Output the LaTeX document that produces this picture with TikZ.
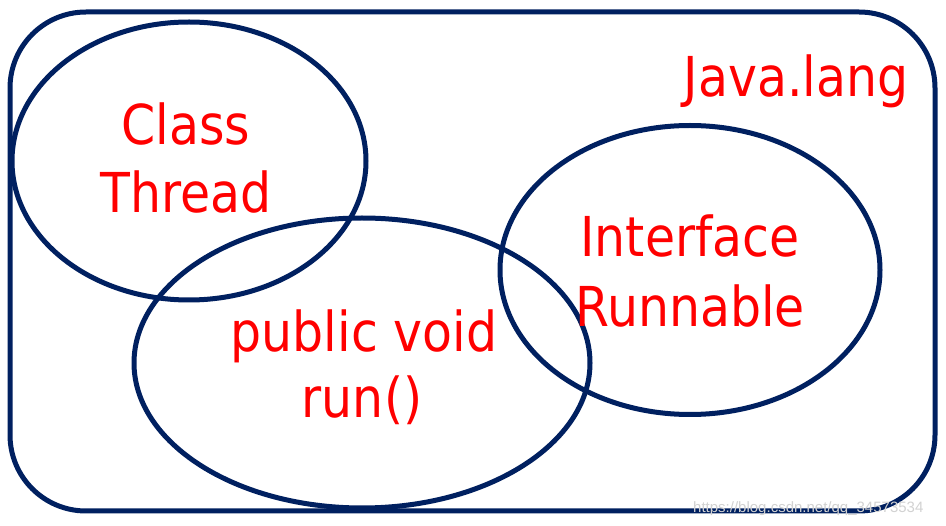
\documentclass[tikz,border=0pt]{standalone}
\usepackage{fontspec}
\usetikzlibrary{shapes.geometric}
\setmainfont{DejaVu Sans}[FakeStretch=0.89]
\newfontfamily\wmfont{Liberation Sans}
\definecolor{navyline}{HTML}{002060}
\definecolor{labelred}{HTML}{FF0000}
\tikzset{
  setline/.style={draw=navyline, line width=5pt},
  setlabel/.style={text=labelred, font=\fontsize{55}{69}\selectfont, anchor=base, inner sep=0pt},
}
\begin{document}
\begin{tikzpicture}[x=1pt,y=-1pt]
\useasboundingbox[fill=white] (0,0) rectangle (946,526);
% outer package box
\draw[setline, rounded corners=76pt] (10,12) rectangle (935,511);
% sets
\node[setline, ellipse, minimum width=354pt, minimum height=278pt, inner sep=0pt] (thread) at (189,161) {};
\node[setline, ellipse, minimum width=456pt, minimum height=290pt, inner sep=0pt] (run) at (362,363) {};
\node[setline, ellipse, minimum width=380pt, minimum height=289pt, inner sep=0pt] (runnable) at (690,270) {};
% labels
\node[setlabel] (pkg) at (796,97) {Java.lang};
\node[setlabel] (threadA) at (186,145) {Class};
\node[setlabel] (threadB) at (186,213) {Thread};
\node[setlabel] (ifaceA) at (690,257) {Interface};
\node[setlabel] (ifaceB) at (690,327) {Runnable};
\node[setlabel] (runA) at (364,352) {public void};
\node[setlabel] (runB) at (362,418) {run()};
% watermark
\node[anchor=base west, inner sep=0pt, text=gray!35, font=\wmfont\fontsize{15}{15}\selectfont] (wm) at (693,513) {https://blog.csdn.net/qq\_34573534};
\end{tikzpicture}
\end{document}
